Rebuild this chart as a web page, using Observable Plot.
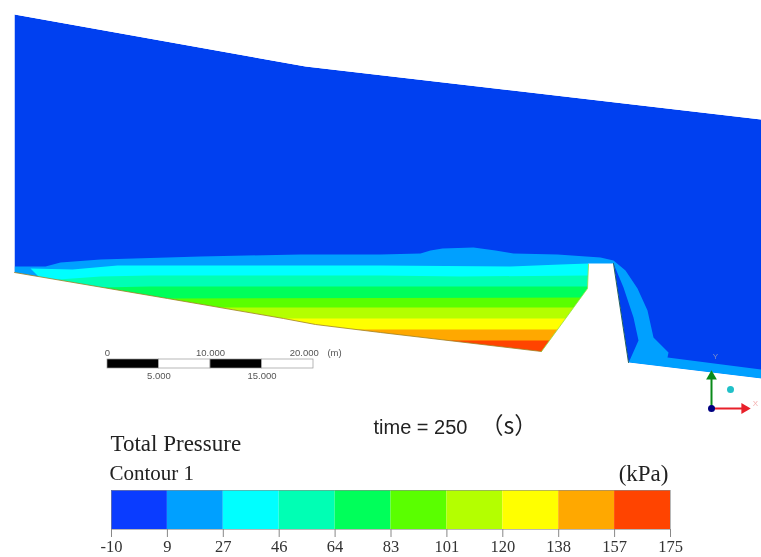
<!DOCTYPE html>
<html>
<head>
<meta charset="utf-8">
<script src="https://cdn.jsdelivr.net/npm/d3@7"></script>
<script src="https://cdn.jsdelivr.net/npm/@observablehq/plot@0.6"></script>
<style>
html,body{margin:0;padding:0;background:#fff;width:761px;height:557px;overflow:hidden}
svg{display:block;filter:blur(0.45px)}
</style>
</head>
<body>
<div id="main"></div>
<div id="legend"></div>
<script>
// Colour legend
const tickValues = [-10, 8.5, 27, 45.5, 64, 82.5, 101, 119.5, 138, 156.5, 175];
const tickLabels = ["-10","9","27","46","64","83","101","120","138","157","175"];
const levelColors = ["#0a3cff","#00a0ff","#00ffff","#00ffb4","#00ff5a","#5aff00","#b4ff00","#ffff00","#ffa800","#ff4400"];

// Flow field outlines, in picture units
const flowBody = [[14,14],[305,66],[761,119],[761,378],[628,362],[613,263],[588,263],[587,288],[541,351],[380,332],[14,272]];
const waterBlue = "#0040f0";
const surfaceZone = [[14,266],[45,266],[60,262],[100,259],[200,256],[300,254],[380,254],[420,253],[430,250],[442,248],[473,247],[495,250],[513,253],[557,254],[600,257],[613,260],[625,270],[637,288],[647,310],[653,337],[668,352],[667,357],[761,369],[761,378],[628,362],[630,358],[638,340],[633,317],[623,287],[613,263],[588,270],[300,340],[14,272]];
const levelTops = {
  2: [[38,276],[30,268],[72,269],[117,265],[300,265],[380,265],[510,266],[560,264],[588,263],[588,340],[38,340]],
  3: [[58,279],[100,276],[150,275],[380,275],[460,276],[588,275],[588,340],[58,340]],
  4: [[100,287],[150,286],[588,286],[588,340],[100,340]],
  5: [[167,298],[588,297],[588,345],[167,345]],
  6: [[200,307],[588,307],[588,345],[200,345]],
  7: [[255,318],[588,318],[588,360],[255,360]],
  8: [[320,329],[588,329],[588,360],[320,360]],
  9: [[425,340],[588,340],[588,360],[425,360]]
};
// The ground and the empty space around the flow
const groundShape = [[0,434],[0,0],[14,0],[14,272],[167,298],[283,318],[315,324],[380,332],[541,351],[587,288],[588,263],[613,263],[628,362],[761,378],[761,434]];
const skyShape = [[14,0],[14,14],[305,66],[761,119],[761,0]];
const bedLine = [[14,272],[167,298],[283,318],[315,324],[380,332],[541,351]];
const slopeLine = [[541,351],[587,288],[588,264]];
const damFace = [[613,263],[628,362]];

// Scale bar
const scaleMetres = [0,5,10,15,20];
const scaleTop = ["0","10.000","20.000"];
const scaleTopAt = [0,10,19.1];
const scaleBottom = ["5.000","15.000"];
const scaleBottomAt = [5,15];
const pictureUnitsPerMetre = 10.3, scaleOrigin = 107;
const sx = m => scaleOrigin + m * pictureUnitsPerMetre;

const shape = (pts, fill) => Plot.line(pts, {x:d=>d[0], y:d=>d[1], fill, stroke:"none", curve:"linear-closed"});
const labelFont = {fontFamily:"Liberation Sans", fontSize:9.5, fill:"#555"};
const serif = {fontFamily:"Liberation Serif", fill:"#222", textAnchor:"start"};

const mainPlot = Plot.plot({
  width:761, height:487, margin:0,
  x:{domain:[0,761], range:[0,761], axis:null},
  y:{domain:[0,487], range:[0,487], axis:null},
  style:{background:"#fff"},
  marks:[
    shape(flowBody, waterBlue),
    shape(surfaceZone, levelColors[1]),
    ...Object.entries(levelTops).map(([k,pts]) => shape(pts, levelColors[+k])),
    shape(groundShape, "#fff"),
    shape(skyShape, "#fff"),
    Plot.line(bedLine, {x:d=>d[0], y:d=>d[1], stroke:"#a08020", strokeWidth:0.8}),
    Plot.line(slopeLine, {x:d=>d[0], y:d=>d[1], stroke:"#90e040", strokeWidth:0.8}),
    Plot.line(damFace, {x:d=>d[0], y:d=>d[1], stroke:"#206060", strokeWidth:1}),
    // scale bar
    Plot.rect(scaleMetres.slice(0,-1), {x1:d=>sx(d), x2:d=>sx(d+5), y1:()=>359, y2:()=>368,
      fill:(d,i)=> i%2 ? "#fff" : "#000", stroke:"#999", strokeWidth:0.7}),
    Plot.text(scaleTop, {x:(d,i)=>sx(scaleTopAt[i]), y:()=>352, text:d=>d, ...labelFont}),
    Plot.text(["(m)"], {x:()=>334, y:()=>352, text:d=>d, ...labelFont}),
    Plot.text(scaleBottom, {x:(d,i)=>sx(scaleBottomAt[i]), y:()=>375.5, text:d=>d, ...labelFont}),
    // triad
    Plot.link([0], {x1:()=>711, y1:()=>408, x2:()=>711, y2:()=>376, stroke:"#0a8a1a", strokeWidth:2}),
    Plot.link([0], {x1:()=>711, y1:()=>408, x2:()=>744, y2:()=>408, stroke:"#e8202a", strokeWidth:2}),
    Plot.dot([0], {x:()=>711, y:()=>376, r:4, symbol:"triangle", fill:"#0a8a1a", stroke:"none"}),
    Plot.dot([0], {x:()=>744, y:()=>408, r:4, symbol:"triangle", rotate:90, fill:"#e8202a", stroke:"none"}),
    Plot.dot([0], {x:()=>711, y:()=>408, r:3.5, fill:"#000080"}),
    Plot.dot([0], {x:()=>730, y:()=>389, r:3.5, fill:"#20c0c8"}),
    Plot.text(["X"], {x:()=>755, y:()=>403, text:d=>d, fill:"#f4b0b0", fontSize:8, fontFamily:"Liberation Sans"}),
    Plot.text(["Y"], {x:()=>715, y:()=>356, text:d=>d, fill:"#8090c8", fontSize:8, fontFamily:"Liberation Sans"}),
    // time
    Plot.text(["time = 250"], {x:()=>373, y:()=>427, textAnchor:"start", text:d=>d, fill:"#222", fontSize:20, fontFamily:"Liberation Sans"}),
    Plot.text(["（s）"], {x:()=>480, y:()=>426, textAnchor:"start", text:d=>d, fill:"#222", fontSize:23, fontFamily:"Noto Sans CJK SC"}),
    // legend headings
    Plot.text(["Total Pressure"], {x:()=>110, y:()=>443, text:d=>d, fontSize:23, ...serif}),
    Plot.text(["Contour 1"], {x:()=>109, y:()=>473, text:d=>d, fontSize:21, ...serif}),
    Plot.text(["(kPa)"], {x:()=>668, y:()=>473, text:d=>d, fontSize:23, ...serif, textAnchor:"end"})
  ]
});
document.getElementById("main").append(mainPlot);

const legendPlot = Plot.plot({
  width:761, height:70,
  marginLeft:111, marginRight:91, marginTop:3, marginBottom:28,
  x:{domain:[-10,175], axis:null},
  y:{axis:null},
  style:{background:"#fff"},
  marks:[
    Plot.rect(levelColors, {x1:(d,i)=>tickValues[i], x2:(d,i)=>tickValues[i+1], fill:d=>d}),
    Plot.frame({stroke:"#888", strokeOpacity:0.6}),
    Plot.axisX({anchor:"bottom", ticks:tickValues, tickFormat:(d)=>tickLabels[tickValues.indexOf(d)], tickSize:8, tickPadding:3,
      fontSize:16.5, fontFamily:"Liberation Serif", color:"#333", stroke:"#888", label:null})
  ]
});
document.getElementById("legend").append(legendPlot);
</script>
</body>
</html>
